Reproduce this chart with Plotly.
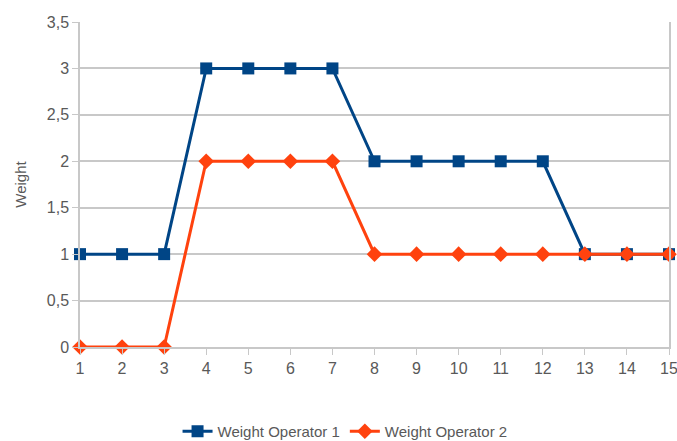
import plotly.graph_objects as go

x_vals = list(range(1, 16))
op1 = [1, 1, 1, 3, 3, 3, 3, 2, 2, 2, 2, 2, 1, 1, 1]
op2 = [0, 0, 0, 2, 2, 2, 2, 1, 1, 1, 1, 1, 1, 1, 1]
y_tickvals = [0, 0.5, 1, 1.5, 2, 2.5, 3, 3.5]
y_ticktext = ["0", "0,5", "1", "1,5", "2", "2,5", "3", "3,5"]

FONT = "Liberation Sans Narrow, Arial Narrow, Liberation Sans, Arial, sans-serif"
TXT = "#595959"

fig = go.Figure()
fig.add_trace(go.Scatter(x=x_vals, y=op1, mode="lines+markers", name="Weight Operator 1",
                         cliponaxis=False,
                         line=dict(color="#004586", width=3),
                         marker=dict(symbol="square", size=12, color="#004586")))
fig.add_trace(go.Scatter(x=x_vals, y=op2, mode="lines+markers", name="Weight Operator 2",
                         cliponaxis=False,
                         line=dict(color="#ff420e", width=3),
                         marker=dict(symbol="diamond", size=12, color="#ff420e")))

fig.update_layout(
    width=677, height=441,
    margin=dict(l=80, r=8, t=22, b=94, autoexpand=False),
    paper_bgcolor="white", plot_bgcolor="white",
    font=dict(family=FONT, size=16, color=TXT),
    legend=dict(orientation="h", x=0.45, xanchor="center", y=-0.26, yanchor="middle",
                font=dict(size=15, color=TXT), itemwidth=30, tracegroupgap=0),
    xaxis=dict(range=[1, 15], tickvals=x_vals, showgrid=False, zeroline=False,
               automargin=False, ticklabeloverflow="allow",
               showline=True, linecolor="#c8c8c8", linewidth=1.5,
               ticks="outside", ticklen=6, tickcolor="#c8c8c8",
               tickfont=dict(size=16, color=TXT)),
    yaxis=dict(range=[0, 3.5], tickvals=y_tickvals, ticktext=y_ticktext,
               automargin=False,
               showgrid=True, gridcolor="#c8c8c8", gridwidth=1.5, zeroline=False,
               showline=True, mirror=True, linecolor="#c8c8c8", linewidth=1.5,
               ticks="outside", ticklen=6, tickcolor="#c8c8c8",
               tickfont=dict(size=16, color=TXT),
               title=dict(text="Weight", font=dict(size=15, color=TXT), standoff=17)),
)
fig.write_html("out.html", config={"displayModeBar": False},
               post_script="document.body.style.margin='0';")
